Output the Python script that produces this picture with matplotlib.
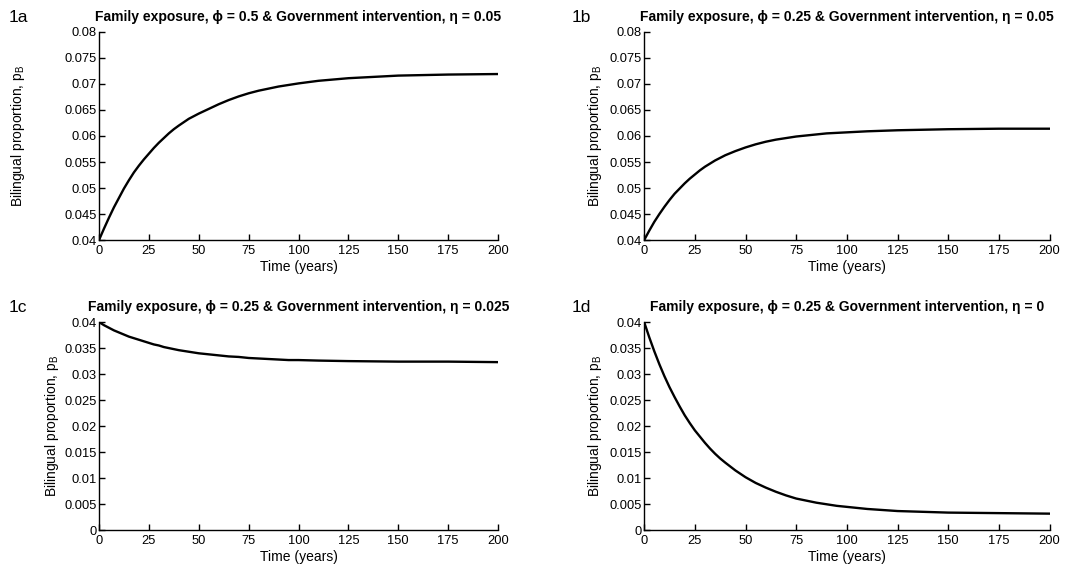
import matplotlib
matplotlib.use("Agg")
import matplotlib.pyplot as plt

plt.rcParams['font.family'] = ['Liberation Sans', 'DejaVu Sans']

# Time points (years)
years = [0, 2.5, 5, 7.5, 10, 12.5, 15, 17.5, 20, 22.5, 25, 27.5, 30, 32.5, 35, 37.5, 40,
         45, 50, 55, 60, 65, 70, 75, 80, 85, 90, 95, 100, 110, 125, 150, 175, 200]

# Bilingual proportion p_B, one list per panel
pb_1a = [0.0400, 0.0422, 0.0443, 0.0463, 0.0481, 0.0499, 0.0515, 0.0530, 0.0543, 0.0555, 0.0566, 0.0577,
         0.0587, 0.0596, 0.0605, 0.0613, 0.0620, 0.0633, 0.0643, 0.0652, 0.0661, 0.0669, 0.0676, 0.0682,
         0.0687, 0.0691, 0.0695, 0.0698, 0.0701, 0.0706, 0.0711, 0.0716, 0.0718, 0.0719]
pb_1b = [0.0400, 0.0418, 0.0435, 0.0450, 0.0464, 0.0477, 0.0489, 0.0499, 0.0509, 0.0518, 0.0526, 0.0534,
         0.0541, 0.0547, 0.0553, 0.0558, 0.0563, 0.0571, 0.0578, 0.0584, 0.0589, 0.0593, 0.0596, 0.0599,
         0.0601, 0.0603, 0.0605, 0.0606, 0.0607, 0.0609, 0.0611, 0.0613, 0.0614, 0.0614]
pb_1c = [0.0400, 0.0394, 0.0389, 0.0384, 0.0380, 0.0376, 0.0372, 0.0369, 0.0366, 0.0363, 0.0360, 0.0357,
         0.0355, 0.0352, 0.0350, 0.0348, 0.0346, 0.0343, 0.0340, 0.0338, 0.0336, 0.0334, 0.0333, 0.0331,
         0.0330, 0.0329, 0.0328, 0.0327, 0.0327, 0.0326, 0.0325, 0.0324, 0.0324, 0.0323]
pb_1d = [0.0400, 0.0371, 0.0344, 0.0319, 0.0296, 0.0275, 0.0256, 0.0238, 0.0221, 0.0206, 0.0192, 0.0180,
         0.0168, 0.0157, 0.0147, 0.0138, 0.0130, 0.0115, 0.0102, 0.0091, 0.0082, 0.0074, 0.0067, 0.0061,
         0.0057, 0.0053, 0.0050, 0.0047, 0.0045, 0.0041, 0.0037, 0.0034, 0.0033, 0.0032]

panel_tags = ["1a", "1b", "1c", "1d"]
titles = ["Family exposure, \u03d5 = 0.5 & Government intervention, \u03b7 = 0.05",
          "Family exposure, \u03d5 = 0.25 & Government intervention, \u03b7 = 0.05",
          "Family exposure, \u03d5 = 0.25 & Government intervention, \u03b7 = 0.025",
          "Family exposure, \u03d5 = 0.25 & Government intervention, \u03b7 = 0"]

x_ticks = [0, 25, 50, 75, 100, 125, 150, 175, 200]
y_ticks_top = [0.04, 0.045, 0.05, 0.055, 0.06, 0.065, 0.07, 0.075, 0.08]
y_labels_top = ["0.04", "0.045", "0.05", "0.055", "0.06", "0.065", "0.07", "0.075", "0.08"]
y_ticks_bot = [0, 0.005, 0.01, 0.015, 0.02, 0.025, 0.03, 0.035, 0.04]
y_labels_bot = ["0", "0.005", "0.01", "0.015", "0.02", "0.025", "0.03", "0.035", "0.04"]

fig = plt.figure(figsize=(10.7, 5.69), dpi=100)

# axes rectangles in figure fraction
rects = [[0.0925, 0.578, 0.373, 0.366],
         [0.602, 0.578, 0.379, 0.366],
         [0.0925, 0.068, 0.373, 0.366],
         [0.602, 0.068, 0.379, 0.366]]
series = [pb_1a, pb_1b, pb_1c, pb_1d]
ylab_x = [-0.18, -0.098, -0.095, -0.099]
tag_pos = [(0.008, 0.962), (0.534, 0.962), (0.008, 0.452), (0.534, 0.452)]

for i in range(4):
    ax = fig.add_axes(rects[i])
    ax.plot(years, series[i], color="black", linewidth=1.7)
    ax.set_xlim(0, 200)
    ax.set_xticks(x_ticks)
    if i < 2:
        ax.set_ylim(0.04, 0.08)
        ax.set_yticks(y_ticks_top)
        ax.set_yticklabels(y_labels_top)
    else:
        ax.set_ylim(0, 0.04)
        ax.set_yticks(y_ticks_bot)
        ax.set_yticklabels(y_labels_bot)
    for s in ["top", "right"]:
        ax.spines[s].set_visible(False)
    for s in ["left", "bottom"]:
        ax.spines[s].set_linewidth(1.0)
    ax.tick_params(direction="in", length=4, width=1, labelsize=9.3)
    ax.tick_params(axis="x", pad=3.5)
    ax.tick_params(axis="y", pad=1.5)
    ax.set_title(titles[i], fontsize=10, fontweight="bold", pad=8)
    ax.set_xlabel("Time (years)", fontsize=10, labelpad=2)
    ax.set_ylabel("Bilingual proportion, p$_\\mathregular{B}$", fontsize=10)
    ax.yaxis.set_label_coords(ylab_x[i], 0.5)
    fig.text(tag_pos[i][0], tag_pos[i][1], panel_tags[i], fontsize=12.5)

fig.savefig("out.png", dpi=100)
